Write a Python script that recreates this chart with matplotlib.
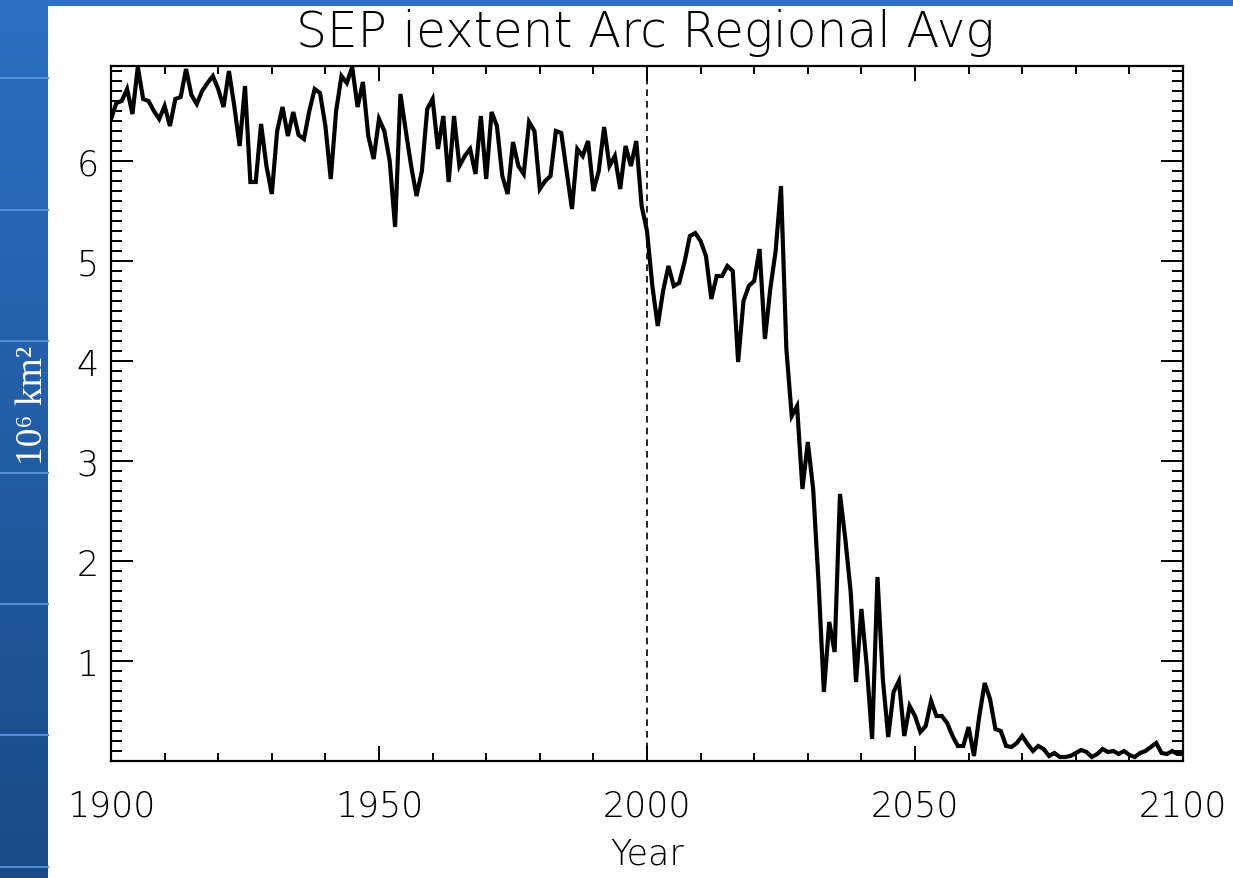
import numpy as np
import matplotlib.pyplot as plt
from matplotlib.patches import Rectangle
from matplotlib.ticker import MultipleLocator

# annual values, 10^6 km^2
years = np.arange(1900, 2101)
ext_1900_1932 = [6.42, 6.58, 6.60, 6.72, 6.47, 6.94, 6.62, 6.60, 6.50, 6.42,
                 6.55, 6.35, 6.62, 6.64, 6.92, 6.66, 6.57, 6.70, 6.78, 6.85,
                 6.72, 6.54, 6.90, 6.55, 6.15, 6.75, 5.79, 5.79, 6.37, 5.95,
                 5.67, 6.30, 6.54]
ext_1933_1964 = [6.25, 6.49, 6.26, 6.22, 6.50, 6.72, 6.68, 6.35, 5.82, 6.50,
                 6.85, 6.78, 6.94, 6.54, 6.79, 6.25, 6.02, 6.42, 6.30, 6.00,
                 5.34, 6.67, 6.30, 5.95, 5.65, 5.90, 6.52, 6.62, 6.12, 6.45,
                 5.79, 6.45]
ext_1965_1999 = [5.95, 6.05, 6.12, 5.87, 6.45, 5.82, 6.49, 6.35, 5.85, 5.67,
                 6.19, 5.95, 5.87, 6.39, 6.30, 5.72, 5.80, 5.85, 6.30, 6.28,
                 5.90, 5.52, 6.12, 6.05, 6.20, 5.70, 5.90, 6.34, 5.95, 6.05,
                 5.72, 6.15, 5.95, 6.20, 5.55]
ext_2000_2032 = [5.30, 4.75, 4.35, 4.70, 4.95, 4.75, 4.78, 4.99, 5.25, 5.28,
                 5.20, 5.05, 4.62, 4.85, 4.85, 4.95, 4.90, 3.99, 4.60, 4.75,
                 4.80, 5.12, 4.22, 4.72, 5.10, 5.75, 4.12, 3.45, 3.55, 2.72,
                 3.19, 2.72, 1.79]
ext_2033_2065 = [0.69, 1.39, 1.09, 2.67, 2.22, 1.69, 0.79, 1.52, 0.95, 0.22,
                 1.84, 0.82, 0.24, 0.69, 0.80, 0.25, 0.55, 0.45, 0.29, 0.35,
                 0.60, 0.45, 0.45, 0.38, 0.25, 0.15, 0.15, 0.34, 0.05, 0.45,
                 0.78, 0.62, 0.32]
ext_2066_2100 = [0.30, 0.15, 0.14, 0.18, 0.25, 0.17, 0.10, 0.15, 0.12, 0.05,
                 0.08, 0.04, 0.04, 0.05, 0.08, 0.11, 0.09, 0.04, 0.07, 0.12,
                 0.09, 0.10, 0.07, 0.10, 0.06, 0.04, 0.08, 0.10, 0.14, 0.18,
                 0.08, 0.07, 0.10, 0.07, 0.07]
extent = (ext_1900_1932 + ext_1933_1964 + ext_1965_1999 + ext_2000_2032
          + ext_2033_2065 + ext_2066_2100)

plt.rcParams['font.family'] = ['DejaVu Sans']
plt.rcParams['font.weight'] = 'light'
plt.rcParams['axes.labelweight'] = 'light'

W, H = 1233, 879
fig = plt.figure(figsize=(W / 100, H / 100), dpi=100)

# slide background: blue gradient with a faint grid, white panel on top
bg = fig.add_axes([0, 0, 1, 1])
grad = np.linspace(0, 1, 256).reshape(-1, 1)
top = np.array([0.17, 0.44, 0.76])
bot = np.array([0.10, 0.29, 0.53])
img = top + (bot - top) * grad[:, :, None]
bg.imshow(img, aspect='auto', extent=[0, W, H, 0])
for yy in [79, 211, 342, 474, 605, 736, 868]:
    bg.plot([0, 48], [yy, yy], color='#4f8fd6', lw=1.5)
bg.add_patch(Rectangle((48, 7), W - 48, H - 7, facecolor='white', edgecolor='none'))
bg.set_xlim(0, W)
bg.set_ylim(H, 0)
bg.axis('off')

ax = fig.add_axes([111 / W, 1 - 762 / H, 1072 / W, 695 / H])
ax.plot(years, extent, color='black', lw=3.0, solid_joinstyle='miter')
ax.axvline(2000, color='black', lw=1.2, linestyle=(0, (4, 3)))

ax.set_xlim(1900, 2100)
ax.set_ylim(0.0, 6.95)
ax.set_xticks([1900, 1950, 2000, 2050, 2100])
ax.xaxis.set_minor_locator(MultipleLocator(10))
ax.set_yticks([1, 2, 3, 4, 5, 6])
ax.yaxis.set_minor_locator(MultipleLocator(0.1))

ax.tick_params(axis='both', which='both', direction='in', top=True, right=True,
               width=1.4, labelsize=25)
ax.tick_params(axis='x', which='major', length=11, pad=20)
ax.tick_params(axis='x', which='minor', length=6)
ax.tick_params(axis='y', which='major', length=16, pad=9)
ax.tick_params(axis='y', which='minor', length=8)
for s in ax.spines.values():
    s.set_linewidth(1.6)

ax.set_xlabel('Year', fontsize=25, fontweight='light', labelpad=10)

fig.text(645 / W, 1 - 33 / H, 'SEP iextent Arc Regional Avg', fontsize=35,
         ha='center', va='center')
fig.text(33 / W, 1 - 405 / H, '10\u2076 km\u00b2', color='white', fontsize=27,
         family=['Liberation Serif', 'DejaVu Serif'], rotation=90,
         ha='center', va='center')

fig.savefig('out.png', dpi=100)
